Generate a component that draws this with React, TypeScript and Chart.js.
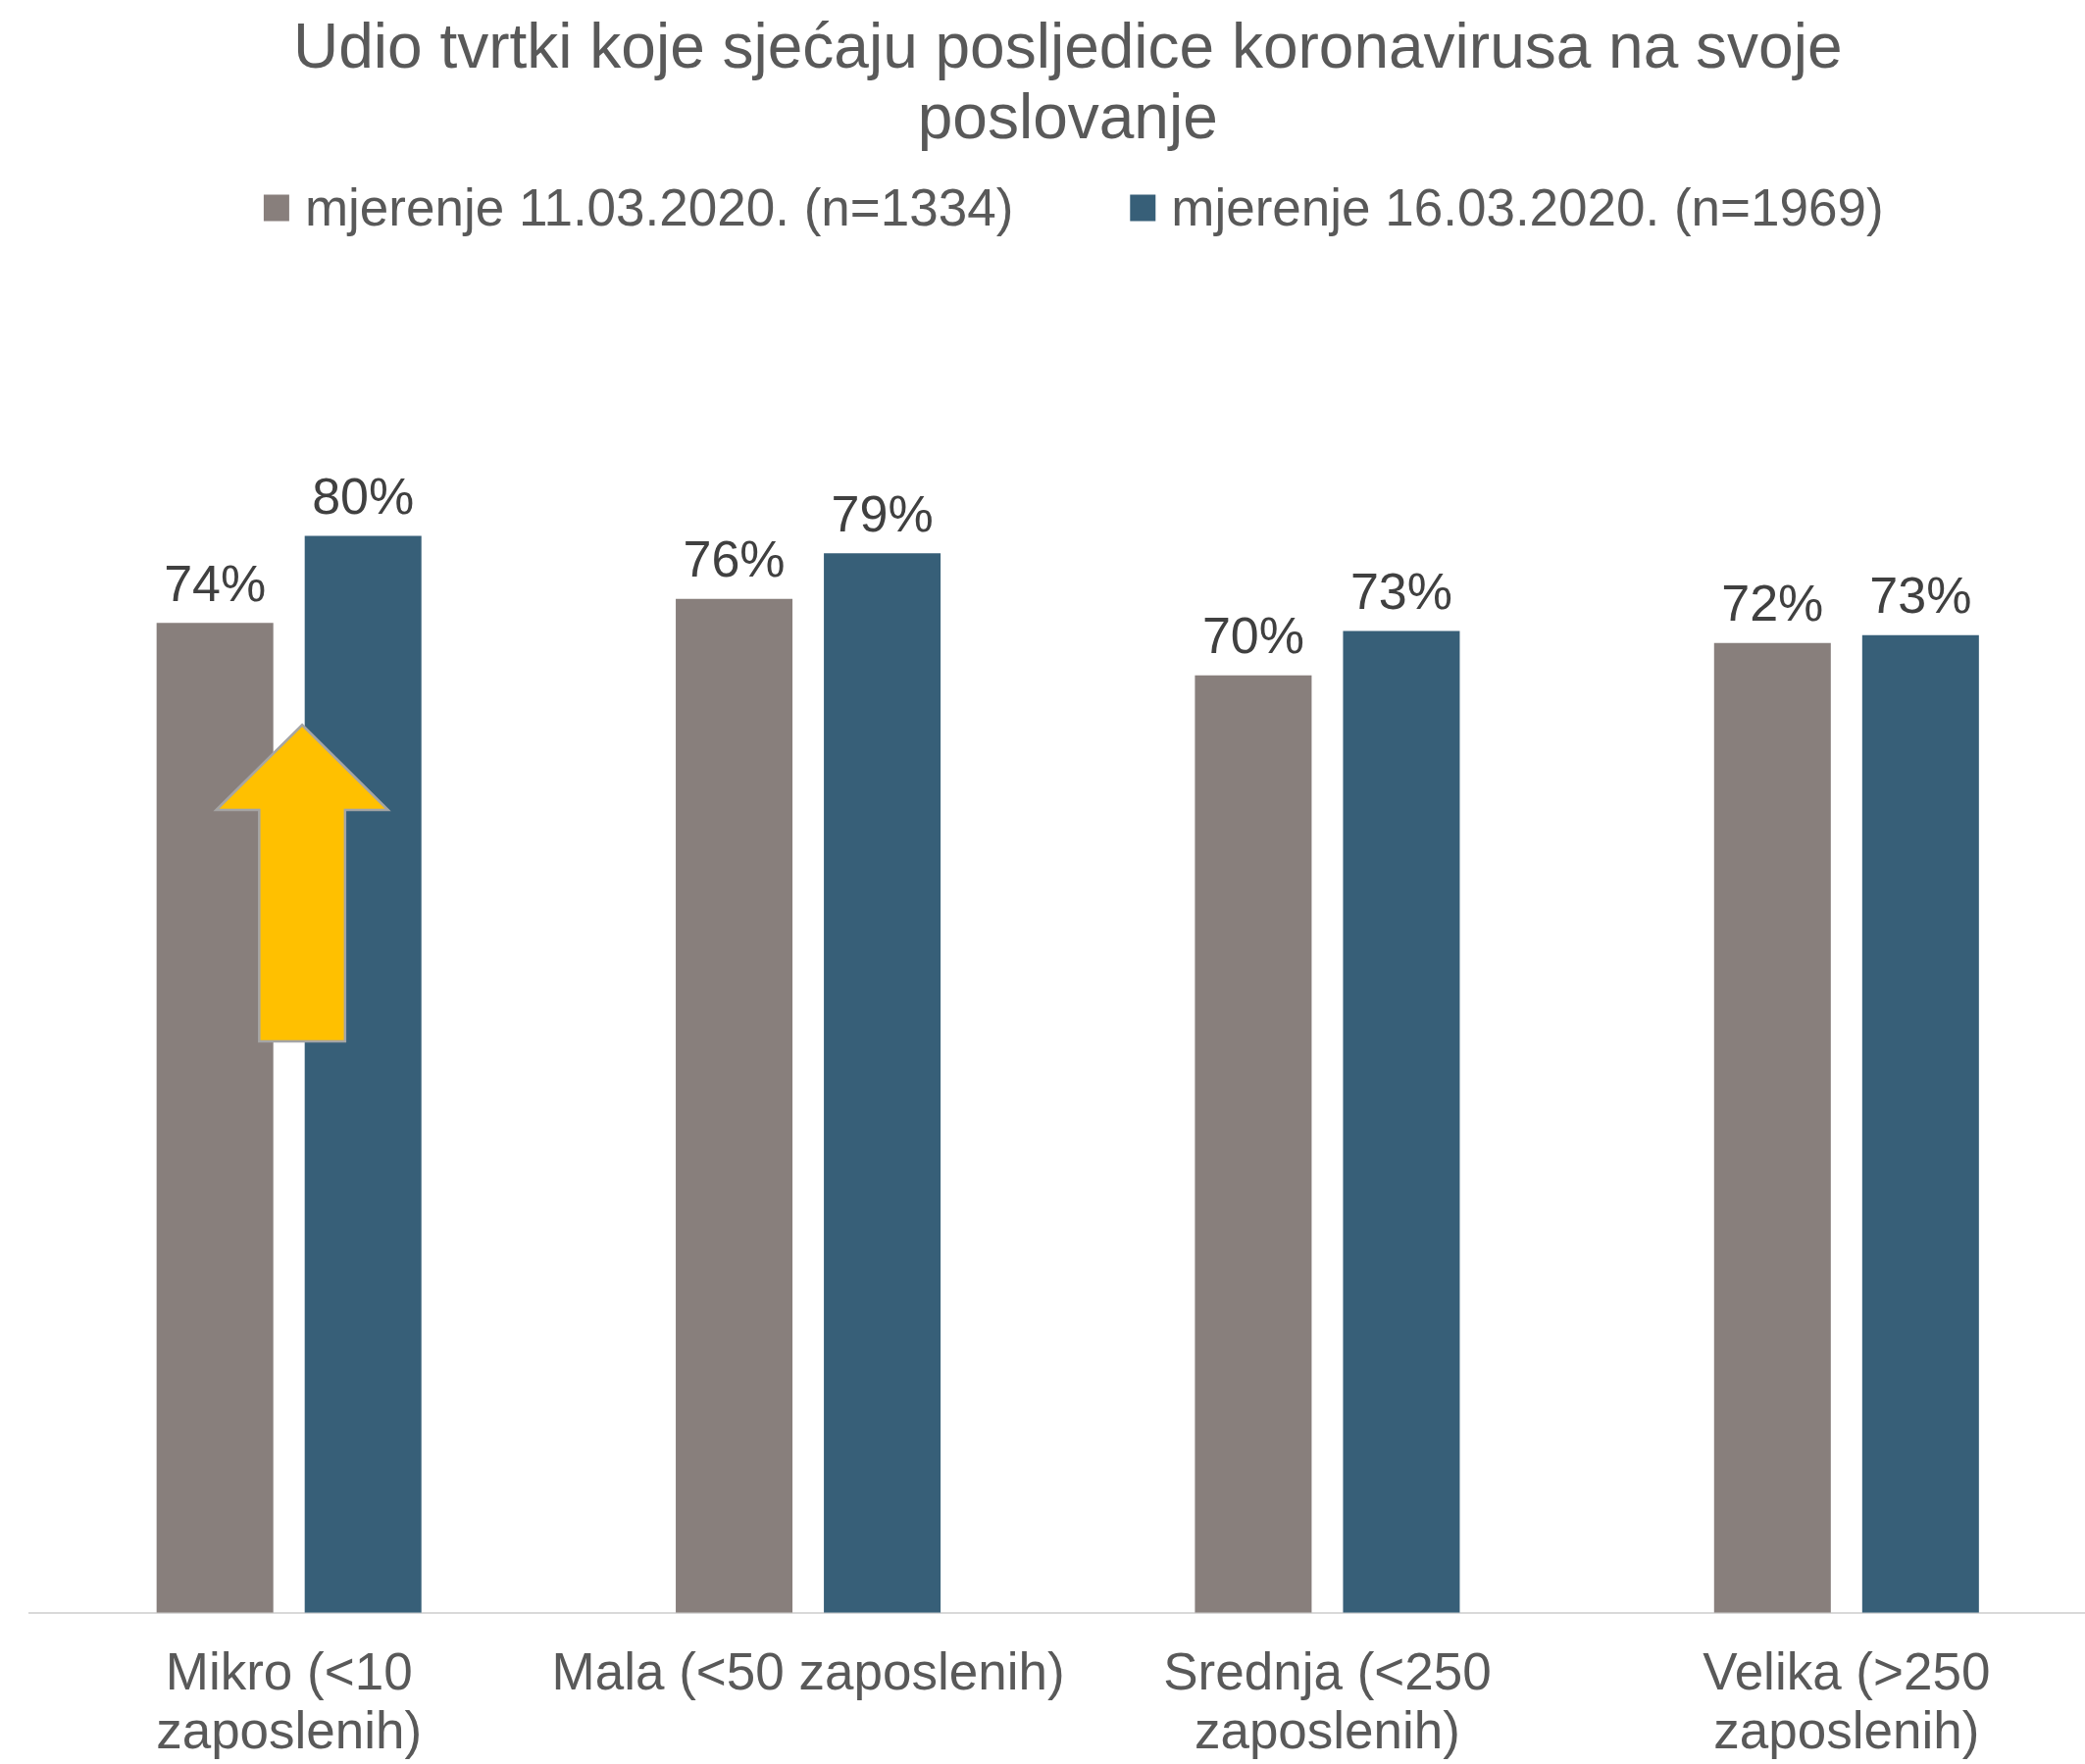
import React, { useEffect, useRef } from "react";
import { Chart, registerables } from "chart.js";

Chart.register(...registerables);

// ---- data ----
const TITLE_LINES = ["Udio tvrtki koje sjećaju posljedice koronavirusa na svoje", "poslovanje"];
const CATEGORIES: (string | string[])[] = [
  ["Mikro (<10", "zaposlenih)"],
  "Mala (<50 zaposlenih)",
  ["Srednja (<250", "zaposlenih)"],
  ["Velika (>250", "zaposlenih)"],
];
const SERIES_LABELS = ["mjerenje 11.03.2020. (n=1334)", "mjerenje 16.03.2020. (n=1969)"];
const SERIES_1 = [73.8, 75.6, 69.9, 72.3];
const SERIES_2 = [80.3, 79.0, 73.2, 72.9];
const SERIES_COLORS = ["#887F7C", "#375F78"];

// arrow annotation (category index + value-space extents)
const ARROW_CATEGORY = 0;
const ARROW_TIP = 66.2;
const ARROW_HEAD_BASE = 59.85;
const ARROW_BOTTOM = 42.6;

const FONT = "'Liberation Sans', Arial, Helvetica, sans-serif";
const CANVAS_W = 2178;
const CANVAS_H = 1832;

const valueLabelPlugin = {
  id: "valueLabels",
  afterDatasetsDraw(chart: any) {
    const ctx = chart.ctx;
    ctx.save();
    ctx.font = `52px ${FONT}`;
    ctx.fillStyle = "#404040";
    ctx.textAlign = "center";
    ctx.textBaseline = "alphabetic";
    chart.data.datasets.forEach((ds: any, di: number) => {
      const meta = chart.getDatasetMeta(di);
      meta.data.forEach((bar: any, i: number) => {
        ctx.fillText(Math.round(ds.data[i]) + "%", bar.x, bar.y - 22.5);
      });
    });
    ctx.restore();
  },
};

const arrowPlugin = {
  id: "arrow",
  afterDatasetsDraw(chart: any) {
    const x = chart.scales.x;
    const y = chart.scales.y;
    const cw = x.getPixelForValue(1) - x.getPixelForValue(0);
    const cx = x.getPixelForValue(ARROW_CATEGORY) + cw * 0.0253;
    const headHalf = cw * 0.1655;
    const shaftHalf = cw * 0.0827;
    const tipY = y.getPixelForValue(ARROW_TIP);
    const baseY = y.getPixelForValue(ARROW_HEAD_BASE);
    const botY = y.getPixelForValue(ARROW_BOTTOM);
    const ctx = chart.ctx;
    ctx.save();
    ctx.beginPath();
    ctx.moveTo(cx, tipY);
    ctx.lineTo(cx + headHalf, baseY);
    ctx.lineTo(cx + shaftHalf, baseY);
    ctx.lineTo(cx + shaftHalf, botY);
    ctx.lineTo(cx - shaftHalf, botY);
    ctx.lineTo(cx - shaftHalf, baseY);
    ctx.lineTo(cx - headHalf, baseY);
    ctx.closePath();
    ctx.fillStyle = "#FFC000";
    ctx.fill();
    ctx.lineWidth = 2.5;
    ctx.strokeStyle = "#A5A5A5";
    ctx.lineJoin = "miter";
    ctx.stroke();
    ctx.restore();
  },
};

const legendPlugin = {
  id: "customLegend",
  afterDraw(chart: any) {
    const ctx = chart.ctx;
    ctx.save();
    ctx.font = `53px ${FONT}`;
    const box = 26;
    const boxGap = 16;
    const itemGap = 119;
    const widths = SERIES_LABELS.map((t) => ctx.measureText(t).width);
    const total = widths.reduce((a, w) => a + box + boxGap + w, 0) + itemGap * (SERIES_LABELS.length - 1);
    const center = (chart.chartArea.left + chart.chartArea.right) / 2 + 6;
    let xPos = center - total / 2;
    const boxTop = 198.5;
    const baseline = 230;
    SERIES_LABELS.forEach((t, i) => {
      ctx.fillStyle = SERIES_COLORS[i];
      ctx.fillRect(xPos, boxTop, box, 27);
      xPos += box + boxGap;
      ctx.fillStyle = "#595959";
      ctx.textAlign = "left";
      ctx.textBaseline = "alphabetic";
      ctx.fillText(t, xPos, baseline);
      xPos += widths[i] + itemGap;
    });
    ctx.restore();
  },
};

export default function App() {
  const canvasRef = useRef<HTMLCanvasElement | null>(null);

  useEffect(() => {
    document.body.style.margin = "0";
    document.body.style.background = "#ffffff";
    const canvas = canvasRef.current;
    if (!canvas) return;
    const chart = new Chart(canvas, {
      type: "bar",
      data: {
        labels: CATEGORIES as any,
        datasets: [
          {
            label: SERIES_LABELS[0],
            data: SERIES_1,
            backgroundColor: SERIES_COLORS[0],
            categoryPercentage: 0.5706,
            barPercentage: 0.788,
          },
          {
            label: SERIES_LABELS[1],
            data: SERIES_2,
            backgroundColor: SERIES_COLORS[1],
            categoryPercentage: 0.5706,
            barPercentage: 0.788,
          },
        ],
      },
      options: {
        responsive: false,
        animation: false,
        devicePixelRatio: 1,
        layout: { padding: { left: 30, right: 30.5, top: 0, bottom: 0 } },
        plugins: {
          legend: { display: false },
          tooltip: { enabled: false },
          title: {
            display: true,
            text: TITLE_LINES,
            color: "#595959",
            font: { family: FONT, size: 64, weight: "normal", lineHeight: 1.125 },
            padding: { top: 15, bottom: 118 },
          },
        },
        scales: {
          x: {
            grid: { display: false, drawTicks: false },
            border: { display: true, color: "#D9D9D9", width: 2 },
            ticks: {
              color: "#595959",
              font: { family: FONT, size: 53, lineHeight: 1.145 },
              padding: 33,
              maxRotation: 0,
              minRotation: 0,
              autoSkip: false,
            },
          },
          y: {
            display: false,
            min: 0,
            max: 100,
          },
        },
      },
      plugins: [arrowPlugin, valueLabelPlugin, legendPlugin],
    } as any);
    return () => chart.destroy();
  }, []);

  return (
    <div style={{ position: "fixed", left: 0, top: 0, width: 2126, height: 1799, overflow: "hidden", background: "#fff" }}>
      <canvas ref={canvasRef} width={CANVAS_W} height={CANVAS_H} style={{ display: "block", width: CANVAS_W, height: CANVAS_H }} />
    </div>
  );
}
